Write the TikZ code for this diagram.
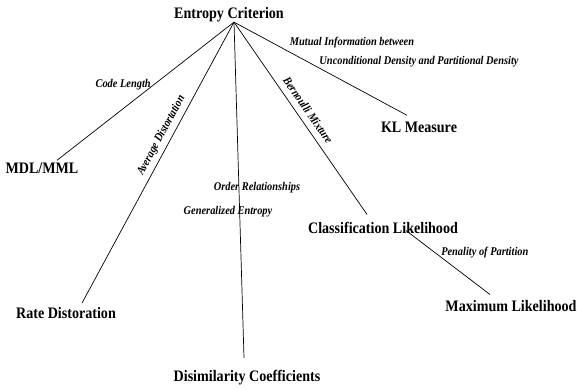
\documentclass[tikz,border=0pt]{standalone}
\usepackage{fontspec}
\newfontfamily\diagfont[FakeStretch=0.88]{Liberation Serif}
\begin{document}
\begin{tikzpicture}[x=1pt,y=-1pt,line width=0.7pt,
        concept/.style={font=\diagfont\bfseries\fontsize{16}{18}\selectfont,inner sep=2pt},
        lbl/.style={font=\diagfont\bfseries\itshape\fontsize{11.8}{13}\selectfont}]
    \useasboundingbox (0,0) rectangle (577,390);
    % measures
    \node[concept] (ec) at (229,14.5) {Entropy Criterion};
    \node[concept] (mdl) at (42,168) {MDL/MML};
    \node[concept] (rd) at (66,313) {Rate Distoration};
    \node[concept] (dc) at (247,377.5) {Disimilarity Coefficients};
    \node[concept] (cl) at (383,227.5) {Classification Likelihood};
    \node[concept] (kl) at (419,127.5) {KL Measure};
    \node[concept] (ml) at (511,306) {Maximum Likelihood};
    \coordinate (top) at ([xshift=5pt,yshift=2pt]ec.south);
    % links
    \path[draw] (top) -- node[lbl,pos=0.45,left] {Code Length} ([xshift=15pt]mdl.north);
    \path[draw] (top) -- node[lbl,pos=0.42,sloped,above=1pt] {Average Distortation} ([xshift=16pt,yshift=2pt]rd.north);
    \path[draw] (top) -- ([xshift=-3pt,yshift=10pt]dc.north);
    \path[draw] (top) -- node[lbl,pos=0.49,sloped,above=3pt] {Bernoulli Mixture} ([xshift=-16pt,yshift=5pt]cl.north);
    \path[draw] (top) -- ([xshift=-12pt,yshift=4.5pt]kl.north);
    \path[draw] ([xshift=23pt,yshift=5pt]cl.south) -- node[lbl,pos=0.34,right,xshift=3pt] {Penality of Partition} ([xshift=-21pt,yshift=3.5pt]ml.north);
    \node[lbl] (mi1) at (352,43) {Mutual Information between};
    \node[lbl] (mi2) at (419,62) {Unconditional Density and Partitional Density};
    \node[lbl] (orl) at (257,188) {Order Relationships};
    \node[lbl] (ge) at (228,212) {Generalized Entropy};
\end{tikzpicture}
\end{document}
